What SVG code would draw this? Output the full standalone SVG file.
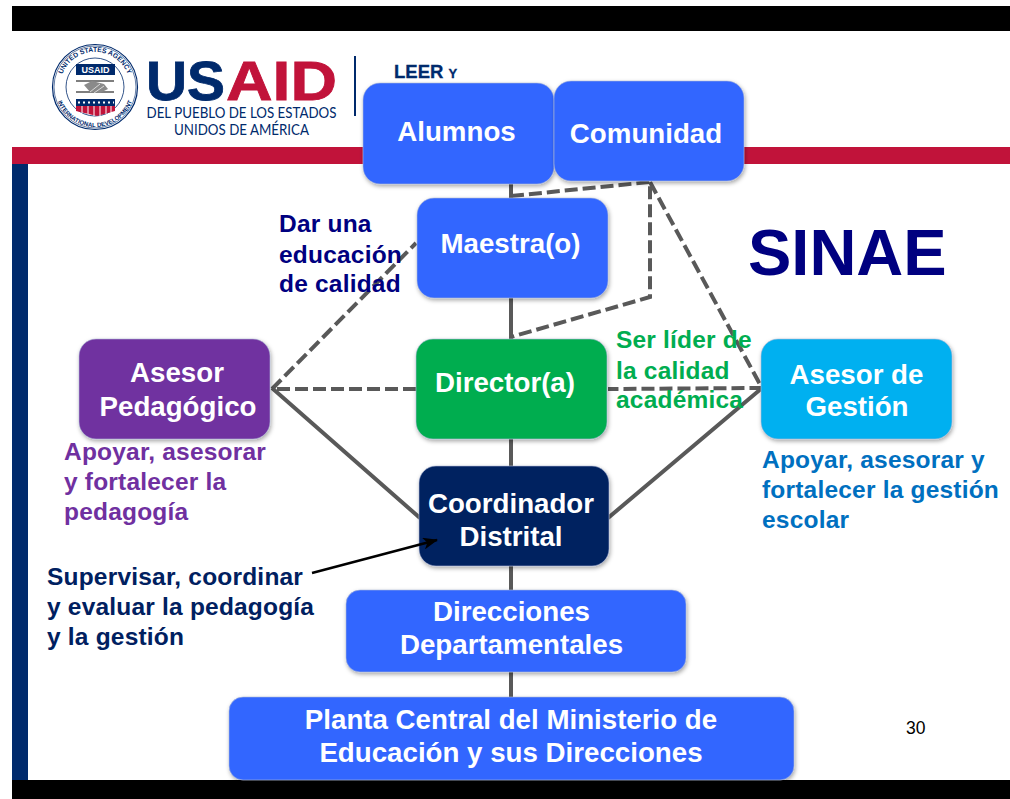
<svg xmlns="http://www.w3.org/2000/svg" width="1010" height="799" viewBox="0 0 1010 799">
<style>
text{font-family:"Liberation Sans",Arial,sans-serif;font-weight:700}
.n{stroke-width:.6;stroke:#aebbd6;filter:url(#s)}
.w{fill:#fff;font-size:27.7px;text-anchor:middle}
.c{fill:none;stroke:#595959;stroke-width:4}
.d{fill:none;stroke:#595959;stroke-width:4;stroke-dasharray:13 5}
.l{font-size:24.5px;letter-spacing:.2px}
.g{font-family:Lato,"Open Sans",sans-serif;font-weight:400;font-size:15px;fill:#002a6c;text-anchor:middle}
</style>
<defs>
<filter id="s" x="-10%" y="-10%" width="120%" height="125%"><feDropShadow dx="1" dy="2" stdDeviation="2" flood-color="#000" flood-opacity=".35"/></filter>
<marker id="a" markerWidth="16" markerHeight="12" refX="14" refY="6" orient="auto" markerUnits="userSpaceOnUse"><path d="M0 0L15 6L0 12L4 6Z" fill="#000"/></marker>
</defs>
<rect width="1010" height="799" fill="#fff"/>
<rect x="12" y="6" width="998" height="25" fill="#000"/>
<rect x="12" y="780" width="998" height="19" fill="#000"/>
<rect x="12" y="147" width="998" height="17" fill="#c1133a"/>
<rect x="12" y="164" width="16" height="616" fill="#002a6c"/>
<g id="logo">
<circle cx="95" cy="87" r="42.500" fill="#fff" stroke="#002a6c" stroke-width="1.200"/>
<circle cx="95" cy="87" r="41" fill="none" stroke="#002a6c" stroke-width=".6"/>
<circle cx="95" cy="87" r="29" fill="#fff" stroke="#002a6c" stroke-width=".8"/>
<path id="ta" d="M62 75A35.100 35.100 0 0 1 128 75" fill="none"/>
<path id="tb" d="M55 87A40 40 0 0 0 135 87" fill="none"/>
<text font-size="6.800" fill="#002a6c"><textPath href="#ta" startOffset="50%" text-anchor="middle">UNITED STATES AGENCY</textPath></text>
<text font-size="6" fill="#002a6c"><textPath href="#tb" startOffset="50%" text-anchor="middle">INTERNATIONAL DEVELOPMENT</textPath></text>
<rect x="76" y="64" width="39" height="11" fill="#002a6c"/>
<text x="95.500" y="73" font-size="9" fill="#fff" text-anchor="middle">USAID</text>
<path d="M76 81H114M76 92H114" stroke="#555" stroke-width="1.300"/>
<path d="M84 85L92 81L104 84L108 89L100 93L90 92Z" fill="#8a8a8a"/>
<path d="M90 92L100 84M94 93L104 86" stroke="#eee" stroke-width=".8"/>
<rect x="76" y="99" width="39" height="7" fill="#002a6c"/>
<path d="M78 102.500H114" stroke="#fff" stroke-width="2" stroke-dasharray="2 3"/>
<path d="M76 106H115V111L97 116L76 111Z" fill="#c1133a"/>
<path d="M82 106V113M88 106V114M94 106V116M100 106V116M106 106V114M111 106V112" stroke="#fff" stroke-width="1"/>
<text x="146" y="100" font-size="56" fill="#002a6c" stroke="#002a6c" stroke-width=".8" textLength="79" lengthAdjust="spacingAndGlyphs">US</text>
<text x="226" y="100" font-size="56" fill="#c1133a" stroke="#c1133a" stroke-width=".8" textLength="111" lengthAdjust="spacingAndGlyphs">AID</text>
<text x="241.500" y="118" class="g" textLength="190" lengthAdjust="spacingAndGlyphs">DEL PUEBLO DE LOS ESTADOS</text>
<text x="241.500" y="135" class="g" textLength="135" lengthAdjust="spacingAndGlyphs">UNIDOS DE AMÉRICA</text>
<rect x="354" y="56" width="2" height="60" fill="#002a6c"/>
<text x="394" y="78" font-size="18.500" fill="#002a6c" stroke="#002a6c" stroke-width=".3">LEER <tspan font-size="13">Y</tspan></text>
</g>
<g id="connectors">
<path class="c" d="M511 180V700"/>
<path class="c" d="M272 388L420 518M608 518L762 388"/>
<path class="d" d="M511 196L650 182L650 297L511 337"/>
<path class="d" d="M650 182L762 388L608 389M416 389H272L416 243"/>
</g>
<g id="alumnos"><rect class="n" x="363" y="83" width="191" height="101" rx="17" fill="#36f"/><text class="w" x="456.500" y="141">Alumnos</text></g>
<g id="comunidad"><rect class="n" x="554" y="81" width="190" height="100" rx="17" fill="#36f"/><text class="w" x="646" y="143">Comunidad</text></g>
<g id="maestra"><rect class="n" x="417" y="198" width="191" height="100" rx="17" fill="#36f"/><text class="w" x="510.500" y="253">Maestra(o)</text></g>
<g id="director"><rect class="n" x="416" y="339" width="191" height="100" rx="17" fill="#00ad50"/><text class="w" x="505" y="392">Director(a)</text></g>
<g id="asesor-pedagogico"><rect class="n" x="79" y="339" width="191" height="100" rx="17" fill="#7030a0"/><text class="w" x="177" y="382">Asesor</text><text class="w" x="178" y="415.500">Pedagógico</text></g>
<g id="asesor-gestion"><rect class="n" x="761" y="339" width="191" height="100" rx="17" fill="#00b0f0"/><text class="w" x="856.500" y="384">Asesor de</text><text class="w" x="857" y="416">Gestión</text></g>
<g id="coordinador"><rect class="n" x="419" y="466" width="190" height="100" rx="17" fill="#002060"/><text class="w" x="511" y="513">Coordinador</text><text class="w" x="511" y="546">Distrital</text></g>
<g id="direcciones"><rect class="n" x="346" y="590" width="340" height="82" rx="14" fill="#36f"/><text class="w" x="511.500" y="621">Direcciones</text><text class="w" x="511.500" y="654">Departamentales</text></g>
<g id="planta"><rect class="n" x="229" y="697" width="565" height="83" rx="14" fill="#36f"/><text class="w" x="511" y="729">Planta Central del Ministerio de</text><text class="w" x="511" y="762">Educación y sus Direcciones</text></g>
<g id="arrow"><path d="M312 573L437 540" fill="none" stroke="#000" stroke-width="2.500" marker-end="url(#a)"/></g>
<g id="labels">
<text x="279" y="232" class="l" fill="#000080">Dar una</text>
<text x="279" y="263" class="l" fill="#000080">educación</text>
<text x="279" y="292" class="l" fill="#000080">de calidad</text>
<text x="748" y="275" font-size="65" fill="#000080">SINAE</text>
<text x="616" y="348" class="l" fill="#00ad50">Ser líder de</text>
<text x="616" y="379" class="l" fill="#00ad50">la calidad</text>
<text x="616" y="408" class="l" fill="#00ad50">académica</text>
<text x="64" y="460" class="l" fill="#7030a0">Apoyar, asesorar</text>
<text x="64" y="490" class="l" fill="#7030a0">y fortalecer la</text>
<text x="64" y="520" class="l" fill="#7030a0">pedagogía</text>
<text x="762" y="468" class="l" fill="#0070c0">Apoyar, asesorar y</text>
<text x="762" y="498" class="l" fill="#0070c0">fortalecer la gestión</text>
<text x="762" y="528" class="l" fill="#0070c0">escolar</text>
<text x="47" y="585" class="l" fill="#002060">Supervisar, coordinar</text>
<text x="47" y="615" class="l" fill="#002060">y evaluar la pedagogía</text>
<text x="47" y="645" class="l" fill="#002060">y la gestión</text>
<text x="906" y="734" font-size="17.500" fill="#000" style="font-weight:400">30</text>
</g>
</svg>
